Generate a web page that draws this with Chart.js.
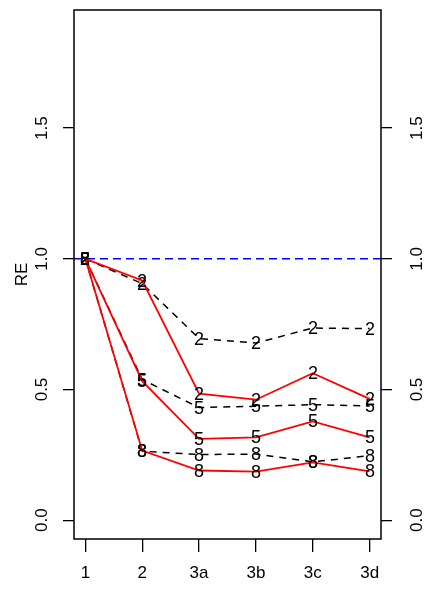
<!DOCTYPE html>
<html>
<head>
<meta charset="utf-8">
<script src="https://cdn.jsdelivr.net/npm/chart.js@4"></script>
<style>
html,body{margin:0;padding:0;background:#fff;}
#wrap{width:432px;height:591px;}
</style>
</head>
<body>
<div id="wrap"><canvas id="c" width="432" height="591"></canvas></div>
<script>
const categories = ['1', '2', '3a', '3b', '3c', '3d'];
const yTicks = [0, 0.5, 1.0, 1.5];
const refValue = 1.0;

const dashed2 = [1.0, 0.905, 0.695, 0.678, 0.735, 0.733];
const red2    = [1.0, 0.917, 0.484, 0.461, 0.562, 0.464];
const dashed5 = [1.0, 0.538, 0.431, 0.436, 0.442, 0.437];
const red5    = [1.0, 0.532, 0.311, 0.317, 0.378, 0.317];
const dashed8 = [1.0, 0.264, 0.251, 0.253, 0.223, 0.247];
const red8    = [1.0, 0.266, 0.190, 0.186, 0.221, 0.187];

const FONT = '"Liberation Sans", Arial, Helvetica, sans-serif';
const GSIZE = 18;

function glyph(txt) {
  const c = document.createElement('canvas');
  c.width = 26; c.height = 26;
  const g = c.getContext('2d');
  g.fillStyle = '#000';
  g.font = GSIZE + 'px ' + FONT;
  g.textAlign = 'center';
  g.textBaseline = 'alphabetic';
  g.fillText(txt, 13, Math.round(13 + GSIZE * 0.716 / 2));
  return c;
}

function pts(arr) { return arr.map((v, i) => ({x: i, y: v})); }

function series(arr, label, solid) {
  return {
    label: label,
    data: pts(arr),
    borderColor: solid ? '#ff0000' : '#000000',
    borderWidth: solid ? 1.8 : 1.5,
    borderDash: solid ? [] : [7, 6],
    pointStyle: glyph(label),
    pointRadius: 6,
    pointHoverRadius: 6,
    tension: 0,
    fill: false
  };
}

const datasets = [
  series(red2, '2', true),
  series(red5, '5', true),
  series(red8, '8', true),
  series(dashed2, '2', false),
  series(dashed5, '5', false),
  series(dashed8, '8', false),
  {
    label: 'ref',
    data: [{x: -0.2, y: refValue}, {x: 5.2, y: refValue}],
    borderColor: '#0000ff',
    borderWidth: 1.5,
    borderDash: [8, 5],
    pointRadius: 0,
    tension: 0
  }
];

const boxPlugin = {
  id: 'box',
  beforeDraw(chart) { chart.ctx.imageSmoothingEnabled = false; },
  afterDraw(chart) {
    const a = chart.chartArea, ctx = chart.ctx;
    ctx.save();
    ctx.strokeStyle = '#000';
    ctx.lineWidth = 1.5;
    ctx.strokeRect(a.left, a.top, a.right - a.left, a.bottom - a.top);
    ctx.restore();
  }
};

function noPad(s) { s.paddingTop = 0; s.paddingBottom = 0; s.paddingLeft = 0; s.paddingRight = 0; }

const yCommon = {
  type: 'linear',
  min: -0.072,
  max: 1.952,
  afterBuildTicks: s => { s.ticks = yTicks.map(v => ({value: v})); },
  grid: { drawOnChartArea: false, drawTicks: true, tickLength: 11, color: '#000', lineWidth: 1.3 },
  border: { display: false },
  ticks: {
    minRotation: 90, maxRotation: 90,
    crossAlign: 'center',
    color: '#000',
    font: { family: FONT, size: 17 },
    callback: v => Number(v).toFixed(1)
  }
};

new Chart(document.getElementById('c'), {
  type: 'line',
  data: { datasets },
  plugins: [boxPlugin],
  options: {
    responsive: false,
    animation: false,
    devicePixelRatio: 1,
    layout: { padding: { top: 10, left: 0, right: 0, bottom: 0 } },
    plugins: { legend: { display: false }, tooltip: { enabled: false } },
    scales: {
      x: {
        type: 'linear',
        min: -0.2,
        max: 5.2,
        afterBuildTicks: s => { s.ticks = categories.map((c, i) => ({value: i})); },
        afterFit: s => { s.height = 52; noPad(s); },
        grid: { drawOnChartArea: false, drawTicks: true, tickLength: 13, color: '#000', lineWidth: 1.3 },
        border: { display: false },
        ticks: {
          color: '#000',
          padding: 11,
          maxRotation: 0, minRotation: 0,
          font: { family: FONT, size: 17 },
          callback: v => categories[Math.round(v)]
        }
      },
      y: Object.assign({}, yCommon, {
        position: 'left',
        afterFit: s => { s.width = 74; noPad(s); },
        ticks: Object.assign({}, yCommon.ticks, { padding: 9 }),
        title: { display: true, text: 'RE', color: '#000', font: { family: FONT, size: 17 }, padding: { top: 12, bottom: 0 } }
      }),
      y2: Object.assign({}, yCommon, {
        position: 'right',
        afterFit: s => { s.width = 51; noPad(s); },
        ticks: Object.assign({}, yCommon.ticks, { padding: 13 })
      })
    }
  }
});
</script>
</body>
</html>
